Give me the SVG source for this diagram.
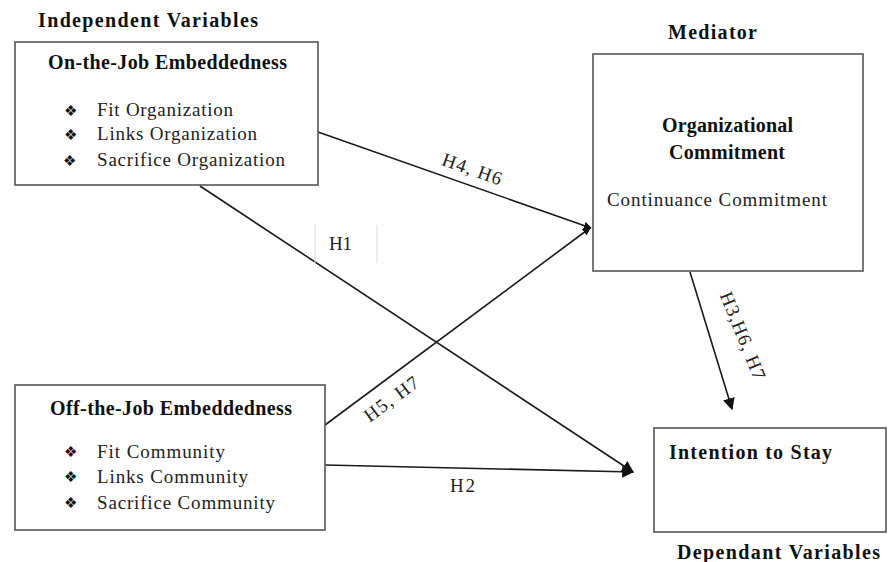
<svg xmlns="http://www.w3.org/2000/svg" width="888" height="562" viewBox="0 0 888 562">
<style>
.box{fill:#fff;stroke:#555;stroke-width:1.6}
.hd{font-family:"Liberation Serif",serif;font-weight:bold;fill:#111;font-size:20px}
.tx{font-family:"Liberation Serif",serif;fill:#222;font-size:19px}
.bl{font-family:"DejaVu Sans",sans-serif;font-size:15px;fill:#111}
.ln{stroke:#1a1a1a;stroke-width:1.6;fill:none}
.lb{font-family:"Liberation Serif",serif;font-size:19px;fill:#222}
</style>
<defs>
<marker id="ah" viewBox="0 0 10 10" refX="9" refY="5" markerWidth="8" markerHeight="8" markerUnits="userSpaceOnUse" orient="auto">
<path d="M0,0 L10,5 L0,10 z" fill="#111"/>
</marker>
<marker id="ah2" viewBox="0 0 10 10" refX="9" refY="5" markerWidth="12" markerHeight="12" markerUnits="userSpaceOnUse" orient="auto">
<path d="M0,0 L10,5 L0,10 z" fill="#111"/>
</marker>
</defs>
<rect width="888" height="562" fill="#fff"/>

<text class="hd" x="38" y="27" textLength="220" lengthAdjust="spacing">Independent Variables</text>
<text class="hd" x="668" y="39" textLength="89" lengthAdjust="spacing">Mediator</text>
<text class="hd" x="677" y="559" textLength="203" lengthAdjust="spacing">Dependant Variables</text>

<g id="connectors">
<line class="ln" x1="318" y1="132" x2="591" y2="228" marker-end="url(#ah)"/>
<line class="ln" x1="325" y1="425" x2="590" y2="228" marker-end="url(#ah)"/>
<line class="ln" x1="200" y1="186" x2="633" y2="472" marker-end="url(#ah2)"/>
<line class="ln" x1="325" y1="465" x2="633" y2="472" marker-end="url(#ah2)"/>
<line class="ln" x1="690" y1="272" x2="732" y2="409" marker-end="url(#ah2)"/>
<text class="lb" transform="translate(470,175) rotate(19.5)" text-anchor="middle" textLength="62" lengthAdjust="spacing">H4, H6</text>
<text class="lb" transform="translate(395,404) rotate(-36.5)" text-anchor="middle" textLength="63" lengthAdjust="spacing">H5, H7</text>
<text class="lb" transform="translate(737,338) rotate(68)" text-anchor="middle" textLength="93" lengthAdjust="spacing">H3,H6, H7</text>
<line x1="315" y1="225" x2="315" y2="263" stroke="#ddd" stroke-width="1"/>
<line x1="377" y1="225" x2="377" y2="263" stroke="#ddd" stroke-width="1"/>
<text class="lb" x="329" y="250" textLength="23" lengthAdjust="spacing">H1</text>
<text class="lb" x="450" y="492" textLength="25" lengthAdjust="spacing">H2</text>
</g>

<g id="on-the-job">
<rect class="box" x="15" y="42" width="303" height="143"/>
<text class="hd" x="48" y="69" textLength="239" lengthAdjust="spacing">On-the-Job Embeddedness</text>
<text class="bl" x="64" y="116">❖︎</text>
<text class="tx" x="97" y="116" textLength="136" lengthAdjust="spacing">Fit Organization</text>
<text class="bl" x="64" y="140">❖︎</text>
<text class="tx" x="97" y="140" textLength="160" lengthAdjust="spacing">Links Organization</text>
<text class="bl" x="63" y="166" font-size="16">❖︎</text>
<text class="tx" x="97" y="166" textLength="188" lengthAdjust="spacing">Sacrifice Organization</text>
</g>

<g id="off-the-job">
<rect class="box" x="15" y="385" width="310" height="145"/>
<text class="hd" x="50" y="415" textLength="242" lengthAdjust="spacing">Off-the-Job Embeddedness</text>
<text class="bl" x="64" y="457">❖︎</text>
<text class="tx" x="97" y="458" textLength="128" lengthAdjust="spacing">Fit Community</text>
<text class="bl" x="64" y="482">❖︎</text>
<text class="tx" x="97" y="483" textLength="151" lengthAdjust="spacing">Links Community</text>
<text class="bl" x="64" y="508">❖︎</text>
<text class="tx" x="97" y="509" textLength="178" lengthAdjust="spacing">Sacrifice Community</text>
</g>

<g id="mediator">
<rect class="box" x="593" y="54" width="270" height="217"/>
<text class="hd" x="662" y="132" textLength="131" lengthAdjust="spacing">Organizational</text>
<text class="hd" x="669" y="159" textLength="116" lengthAdjust="spacing">Commitment</text>
<text class="tx" x="607" y="206" textLength="220" lengthAdjust="spacing">Continuance Commitment</text>
</g>

<g id="intention">
<rect class="box" x="654" y="428" width="232" height="104"/>
<text class="hd" x="669" y="459" textLength="163" lengthAdjust="spacing">Intention to Stay</text>
</g>
</svg>
